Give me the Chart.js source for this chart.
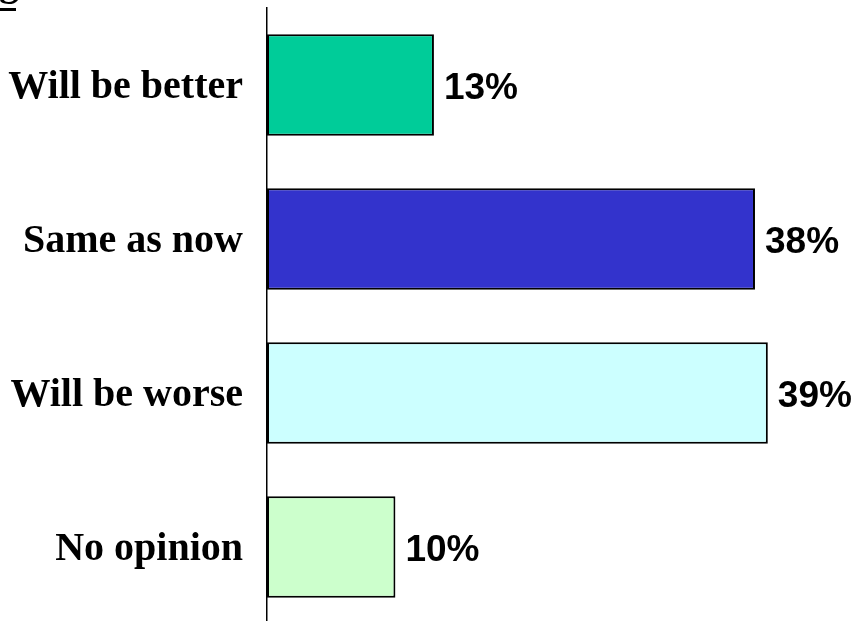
<!DOCTYPE html>
<html>
<head>
<meta charset="utf-8">
<script src="https://cdn.jsdelivr.net/npm/chart.js@4"></script>
<style>
  html, body { margin: 0; padding: 0; background: #fff; overflow: hidden; }
  #wrap { position: relative; width: 859px; height: 624px; }
  #cut { position: absolute; left: -1px; top: -38px; font: bold 40px/40px "Liberation Serif", serif; color: #000; }
  #line { position: absolute; left: 0; top: 8px; width: 16px; height: 3px; background: #000; }
</style>
</head>
<body>
<div id="wrap">
  <div id="cut">g</div>
  <div id="line"></div>
  <canvas id="chart" width="859" height="624"></canvas>
</div>
<script>
const categories = ['Will be better', 'Same as now', 'Will be worse', 'No opinion'];
const values = [13, 38, 39, 10];
const colors = ['#00CC99', '#3333CC', '#CCFFFF', '#CCFFCC'];

// étiquettes de valeur à droite des barres
const valueLabels = {
  id: 'valueLabels',
  afterDatasetsDraw(chart) {
    const ctx = chart.ctx;
    const meta = chart.getDatasetMeta(0);
    ctx.save();
    ctx.font = 'bold 37px "Liberation Sans", Arial, sans-serif';
    ctx.fillStyle = '#000';
    ctx.textAlign = 'left';
    ctx.textBaseline = 'middle';
    meta.data.forEach((bar, i) => {
      ctx.fillText(values[i] + '%', bar.x + 10, bar.y + 4);
    });
    ctx.restore();
  }
};

new Chart(document.getElementById('chart'), {
  type: 'bar',
  data: {
    labels: categories,
    datasets: [{
      data: values,
      backgroundColor: colors,
      borderColor: '#000',
      borderWidth: 2,
      borderSkipped: false,
      categoryPercentage: 0.66,
      barPercentage: 1
    }]
  },
  options: {
    indexAxis: 'y',
    responsive: false,
    animation: false,
    layout: { padding: { top: 8, bottom: 0, left: 0, right: 0 } },
    plugins: { legend: { display: false }, tooltip: { enabled: false } },
    scales: {
      x: {
        min: 0, max: 46.1,
        display: false
      },
      y: {
        grid: { display: false, drawTicks: false },
        border: { display: true, color: '#000', width: 1.5 },
        afterFit(scale) {
          scale.width = 267;
          scale.paddingTop = 0;
          scale.paddingBottom = 0;
        },
        ticks: {
          color: '#000',
          padding: 24,
          labelOffset: 3,
          font: { family: '"Liberation Serif", "Times New Roman", serif', size: 40, weight: 'bold' }
        }
      }
    }
  },
  plugins: [valueLabels]
});
</script>
</body>
</html>
